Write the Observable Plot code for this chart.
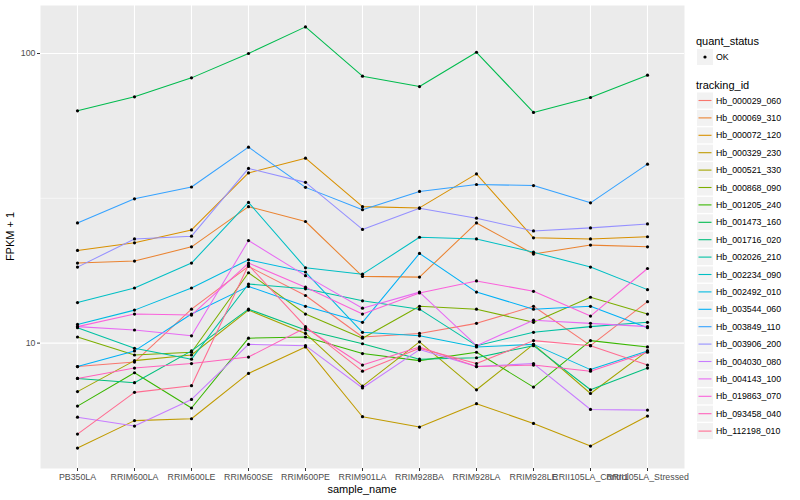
<!DOCTYPE html>
<html><head><meta charset="utf-8">
<script src="https://cdn.jsdelivr.net/npm/d3@7"></script>
<script src="https://cdn.jsdelivr.net/npm/@observablehq/plot@0.6"></script>
<style>
body{margin:0;background:#fff;font-family:"Liberation Sans",Arial,sans-serif;}
#wrap{position:relative;width:800px;height:500px;overflow:hidden;}
#chart{position:absolute;left:0;top:0;}
#legend{position:absolute;left:690px;top:0;}
</style></head><body>
<div id="wrap"><div id="chart"></div><svg id="legend" width="110" height="500"></svg></div>
<script>
const samples = ["PB350LA","RRIM600LA","RRIM600LE","RRIM600SE","RRIM600PE","RRIM901LA","RRIM928BA","RRIM928LA","RRIM928LE","RRII105LA_Control","RRII105LA_Stressed"];
const ids = ["Hb_000029_060","Hb_000069_310","Hb_000072_120","Hb_000329_230","Hb_000521_330","Hb_000868_090","Hb_001205_240","Hb_001473_160","Hb_001716_020","Hb_002026_210","Hb_002234_090","Hb_002492_010","Hb_003544_060","Hb_003849_110","Hb_003906_200","Hb_004030_080","Hb_004143_100","Hb_019863_070","Hb_093458_040","Hb_112198_010"];
const palette = ["#F8766D","#EA8331","#D89000","#C09B00","#A3A500","#7CAE00","#39B600","#00BB4E","#00BF7D","#00C1A3","#00BFC4","#00BAE0","#00B0F6","#35A2FF","#9590FF","#C77CFF","#E76BF3","#FA62DB","#FF62BC","#FF6C91"];

const hb_000029_060 = [8.3, 8.6, 13.1, 18.4, 14.6, 10.5, 10.8, 11.7, 13.4, 9.8, 13.9];
const hb_000069_310 = [18.9, 19.2, 21.5, 29.6, 26.3, 17.0, 16.9, 26.0, 20.3, 21.8, 21.5];
const hb_000072_120 = [20.9, 22.2, 24.6, 38.7, 43.5, 29.6, 29.3, 38.4, 23.1, 22.9, 23.3];
const hb_000329_230 = [4.34, 5.40, 5.48, 7.86, 9.7, 5.57, 5.13, 6.18, 5.28, 4.41, 5.6];
const hb_000521_330 = [6.8, 8.7, 9.1, 13.0, 10.8, 7.1, 10.1, 6.9, 9.9, 6.7, 9.4];
const hb_000868_090 = [10.5, 9.1, 9.3, 17.5, 12.6, 10.4, 13.4, 13.1, 11.8, 14.4, 12.6];
const hb_001205_240 = [6.06, 7.9, 5.97, 10.4, 10.5, 9.2, 8.7, 9.3, 7.05, 10.2, 9.7];
const hb_001473_160 = [63.4, 70.9, 82.4, 100, 123.6, 83.5, 76.9, 101, 62.6, 70.5, 84.2];
const hb_001716_020 = [7.55, 7.3, 9.4, 13.1, 11.1, 9.95, 8.8, 8.9, 9.8, 6.9, 8.2];
const hb_002026_210 = [11.3, 9.6, 8.8, 16.0, 15.4, 14.0, 13.1, 9.8, 10.9, 11.4, 11.8];
const hb_002234_090 = [13.8, 15.5, 18.9, 30.6, 18.2, 17.3, 23.2, 22.9, 20.6, 18.3, 15.3];
const hb_002492_010 = [11.6, 13.0, 15.5, 19.4, 17.6, 10.9, 10.6, 9.7, 9.9, 8.1, 9.4];
const hb_003544_060 = [8.3, 9.4, 12.6, 15.7, 13.4, 11.8, 20.4, 15.0, 13.1, 13.4, 11.3];
const hb_003849_110 = [26.0, 31.5, 34.6, 47.5, 34.5, 28.9, 33.4, 35.3, 35.0, 30.5, 41.5];
const hb_003906_200 = [18.3, 22.9, 23.4, 40.1, 35.9, 24.7, 29.2, 27.0, 24.4, 25.0, 25.8];
const hb_004030_080 = [5.55, 5.17, 6.39, 9.9, 9.8, 7.0, 9.5, 8.3, 8.5, 5.9, 5.87];
const hb_004143_100 = [11.4, 11.1, 10.6, 22.6, 17.1, 13.2, 15.0, 9.8, 12.0, 11.7, 11.4];
const hb_019863_070 = [11.4, 12.6, 12.5, 18.9, 15.6, 12.6, 14.9, 16.4, 15.1, 12.4, 18.1];
const hb_093458_040 = [7.55, 8.2, 8.5, 8.95, 11.3, 8.4, 9.7, 8.3, 8.4, 8.0, 9.3];
const hb_112198_010 = [4.85, 6.76, 7.13, 18.6, 11.4, 8.0, 9.6, 8.5, 10.2, 9.8, 8.4];

const seriesValues = [hb_000029_060, hb_000069_310, hb_000072_120, hb_000329_230, hb_000521_330, hb_000868_090, hb_001205_240, hb_001473_160, hb_001716_020, hb_002026_210, hb_002234_090, hb_002492_010, hb_003544_060, hb_003849_110, hb_003906_200, hb_004030_080, hb_004143_100, hb_019863_070, hb_093458_040, hb_112198_010];
const quantStatus = ["OK"];
const majorTicks = [10, 100];
const minorTicks = [Math.sqrt(10), Math.sqrt(1000)];

const data = ids.flatMap((id, k) => seriesValues[k].map((v, i) => ({tracking_id: id, sample_name: samples[i], fpkm: v, quant_status: quantStatus[0]})));

const FONT = "'Liberation Sans', Arial, sans-serif";

const plot = Plot.plot({
  width: 690, height: 500,
  marginLeft: 40, marginRight: 6, marginTop: 5, marginBottom: 32,
  style: {fontFamily: FONT, fontSize: "8.8px", background: "white", color: "#4D4D4D"},
  x: {type: "point", domain: samples, padding: 0.6, label: null},
  y: {type: "log", domain: [3.69, 146.5], label: null},
  color: {domain: ids, range: palette},
  marks: [
    Plot.frame({fill: "#EBEBEB", stroke: "none"}),
    Plot.gridY(minorTicks, {stroke: "#fff", strokeOpacity: 1, strokeWidth: 0.55}),
    Plot.gridY(majorTicks, {stroke: "#fff", strokeOpacity: 1, strokeWidth: 1.1}),
    Plot.gridX(samples, {stroke: "#fff", strokeOpacity: 1, strokeWidth: 1.1}),
    Plot.line(data, {x: "sample_name", y: "fpkm", z: "tracking_id", stroke: "tracking_id", strokeWidth: 1.05}),
    Plot.dot(data, {x: "sample_name", y: "fpkm", r: 1.6, fill: "#000", stroke: "none"}),
    Plot.axisX(samples, {tickSize: 3, tickPadding: 2, stroke: "#333", fill: "#4D4D4D", label: null}),
    Plot.axisY(majorTicks, {tickSize: 3, tickPadding: 2, stroke: "#333", fill: "#4D4D4D", tickFormat: d => String(d), label: null})
  ]
});
document.getElementById("chart").appendChild(plot);

const svg = d3.select(plot);
svg.append("text").attr("x", 362).attr("y", 493).attr("text-anchor", "middle")
  .attr("font-family", FONT).attr("font-size", "11px").attr("fill", "#000").text("sample_name");
svg.append("text").attr("transform", "translate(14,236.5) rotate(-90)").attr("text-anchor", "middle")
  .attr("font-family", FONT).attr("font-size", "11px").attr("fill", "#000").text("FPKM + 1");

// Legend
const colorScale = plot.scale("color");
const lg = d3.select("#legend").attr("font-family", FONT);
lg.append("text").attr("x", 6).attr("y", 44.5).attr("font-size", "11px").attr("fill", "#000").text("quant_status");
quantStatus.forEach((q, i) => {
  const cy = 57 + i * 17.4;
  lg.append("rect").attr("x", 7).attr("y", cy - 8).attr("width", 16).attr("height", 16).attr("fill", "#F2F2F2");
  lg.append("circle").attr("cx", 15).attr("cy", cy).attr("r", 1.6).attr("fill", "#000");
  lg.append("text").attr("x", 26).attr("y", cy).attr("dy", "0.35em").attr("font-size", "8.8px").attr("fill", "#000").text(q);
});
lg.append("text").attr("x", 6).attr("y", 89).attr("font-size", "11px").attr("fill", "#000").text("tracking_id");
colorScale.domain.forEach((id, i) => {
  const cy = 100.5 + i * 17.4;
  lg.append("rect").attr("x", 7).attr("y", cy - 8).attr("width", 16).attr("height", 16).attr("fill", "#F2F2F2");
  lg.append("line").attr("x1", 8.5).attr("x2", 21.5).attr("y1", cy).attr("y2", cy).attr("stroke", colorScale.apply(id)).attr("stroke-width", 1.1);
  lg.append("text").attr("x", 26).attr("y", cy).attr("dy", "0.35em").attr("font-size", "8.8px").attr("fill", "#000").text(id);
});
</script>
</body></html>
